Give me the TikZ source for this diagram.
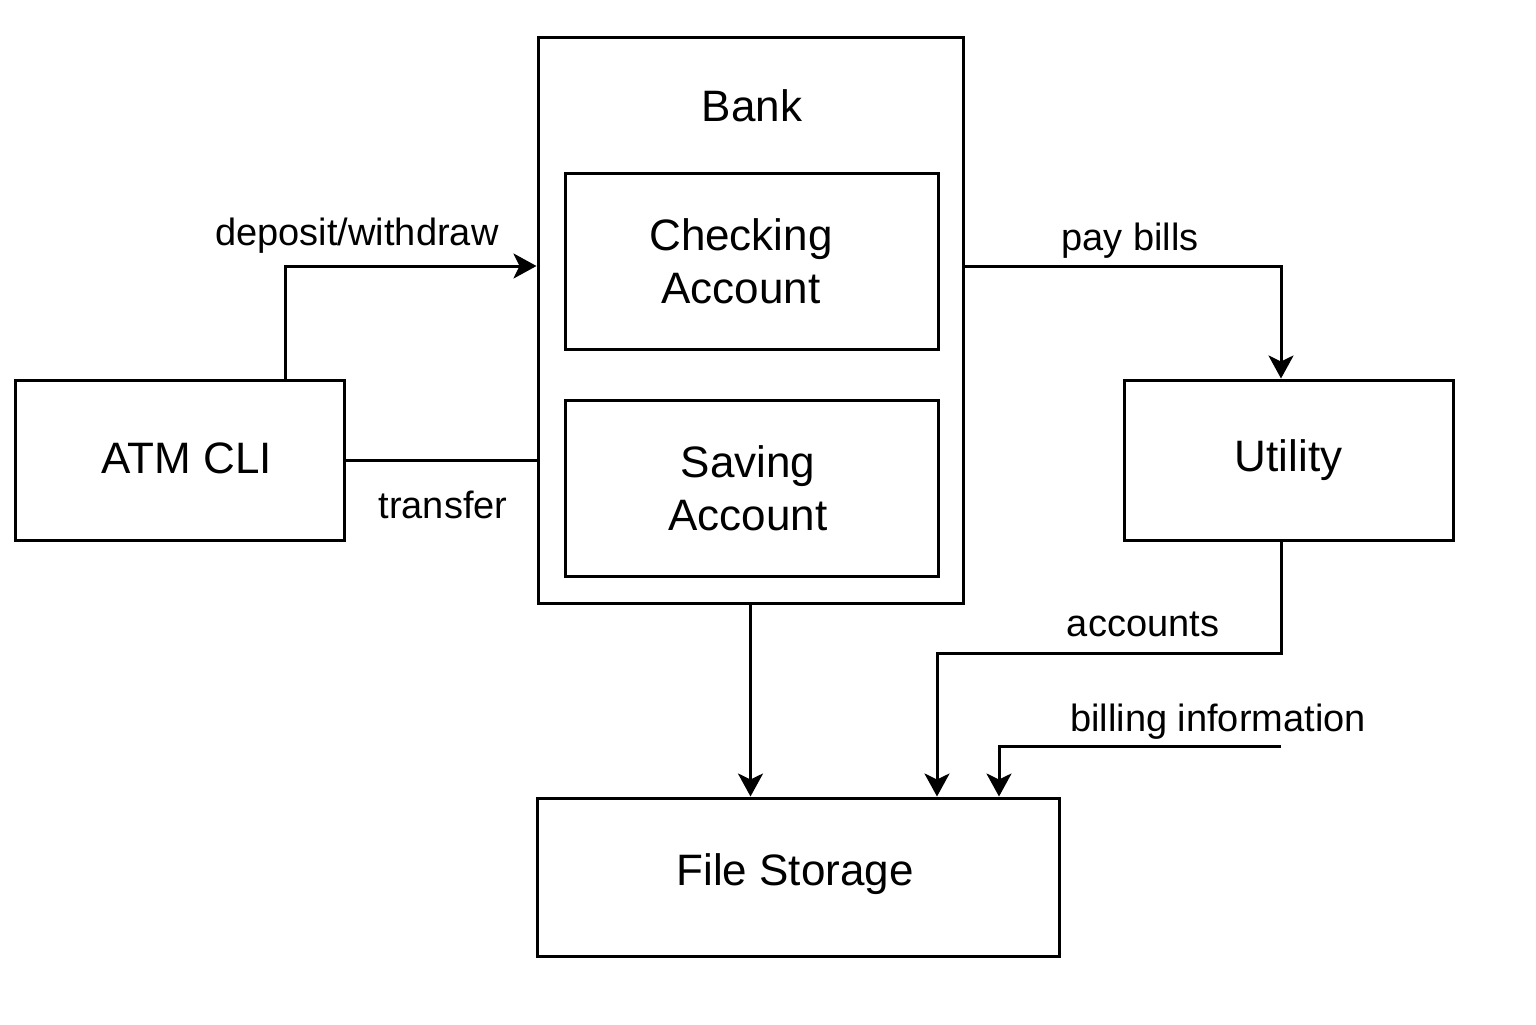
\documentclass[tikz,border=0pt]{standalone}
\usepackage{fontspec}
\setmainfont{Liberation Sans}
\usetikzlibrary{arrows.meta}
\begin{document}
\begin{tikzpicture}[x=0.5pt,y=-0.5pt,
  box/.style={draw=black, line width=1.5pt, rectangle, inner sep=0pt, align=center,
    font=\fontsize{22}{26.5}\selectfont},
  big/.style={font=\fontsize{22}{26.5}\selectfont, inner sep=0pt, align=center},
  small/.style={font=\fontsize{19}{22}\selectfont, inner sep=0pt},
  conn/.style={line width=1.5pt},
  arr/.style={conn, -{Stealth[length=11.5pt, width=12.5pt, inset=3pt]}}
]
\useasboundingbox (0,0) rectangle (1536,1024);
\fill[white] (0,0) rectangle (1536,1024);

% boxes
\node[box, minimum width=212.5pt, minimum height=283pt] (bank) at (750.5,320) {};
\node[big, anchor=base] (banklabel) at (752,121) {Bank};
\node[box, minimum width=186.5pt, minimum height=88pt] (checking) at (751.5,261) {};
\node[big] (checkinglabel) at (741,261) {Checking\\Account};
\node[box, minimum width=186.5pt, minimum height=88pt] (saving) at (751.5,488) {};
\node[big] (savinglabel) at (748,488) {Saving\\Account};
\node[box, minimum width=164.5pt, minimum height=80pt] (atm) at (179.5,460) {};
\node[big] (atmlabel) at (187,458) {ATM CLI};
\node[box, minimum width=164.5pt, minimum height=80pt] (utility) at (1288.5,460) {Utility};
\node[box, minimum width=261pt, minimum height=79pt] (storage) at (798,877) {};
\node[big] (storagelabel) at (795,874) {File Storage};

% bend points
\coordinate (dw) at (285,266);
\coordinate (pb) at (1281,266);
\coordinate (ac) at (1281,653);
\coordinate (ac2) at (937,653);
\coordinate (bi) at (1281,746);
\coordinate (bi2) at (999,746);

% connectors
\draw[arr] (atm.north -| dw) |- (bank.west |- dw);
\draw[conn] (atm.east) -- (atm.east -| bank.west);
\draw[arr] (bank.east |- pb) -| (utility.north -| pb);
\draw[arr] (bank.south) -- (bank.south |- storage.north);
\draw[arr] (utility.south -| ac) |- (ac2) -- (ac2 |- storage.north);
\draw[arr] (bi) -- (bi2) -- (bi2 |- storage.north);

% labels
\node[small, anchor=base] (ldw) at (357,245) {deposit/withdraw};
\node[small, anchor=base] (ltr) at (443,518) {transfer};
\node[small, anchor=base] (lpb) at (1130,250) {pay bills};
\node[small, anchor=base] (lac) at (1143,636) {accounts};
\node[small, anchor=base] (lbi) at (1218,731) {billing information};
\end{tikzpicture}
\end{document}
